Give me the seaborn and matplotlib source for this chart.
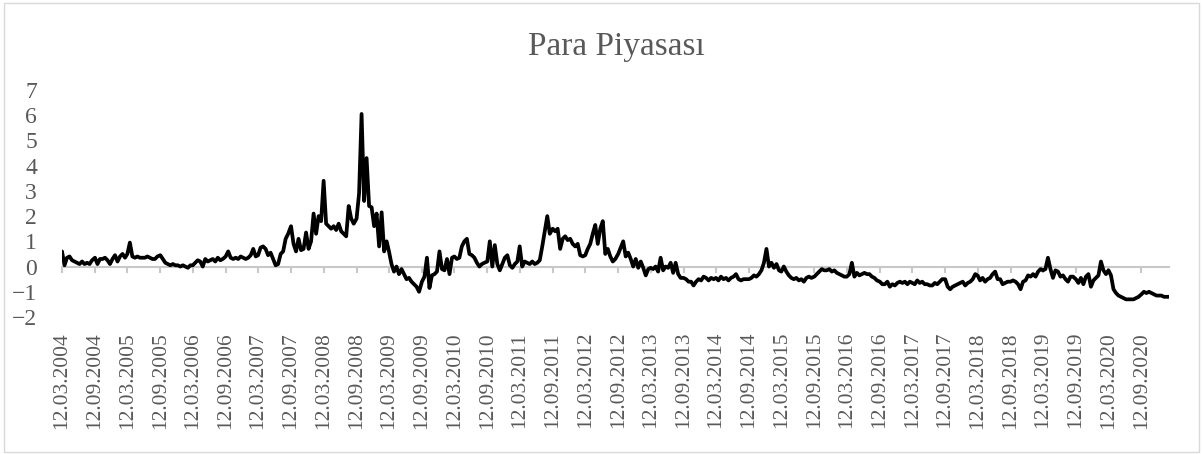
import pandas as pd
import seaborn as sns
import matplotlib
matplotlib.use("Agg")
import matplotlib.pyplot as plt
import matplotlib.transforms as mtransforms

# biweekly readings, one list per half-year (starting 12.03 / 12.09)
h2004a = [0.6, 0.05, 0.35, 0.4, 0.25, 0.2, 0.15, 0.1, 0.2, 0.1, 0.15, 0.1, 0.25]
h2004b = [0.35, 0.1, 0.3, 0.3, 0.35, 0.25, 0.1, 0.3, 0.45, 0.2, 0.4, 0.5, 0.35]
h2005a = [0.5, 0.95, 0.4, 0.35, 0.4, 0.35, 0.35, 0.35, 0.4, 0.35, 0.3, 0.3, 0.4]
h2005b = [0.45, 0.3, 0.15, 0.1, 0.05, 0.1, 0.05, 0.05, 0.0, 0.05, 0.0, -0.05, 0.05]
h2006a = [0.05, 0.15, 0.25, 0.2, 0.0, 0.3, 0.2, 0.25, 0.3, 0.2, 0.35, 0.25, 0.3]
h2006b = [0.4, 0.6, 0.35, 0.3, 0.35, 0.3, 0.4, 0.35, 0.3, 0.35, 0.45, 0.7, 0.4]
h2007a = [0.45, 0.75, 0.8, 0.7, 0.45, 0.55, 0.3, 0.05, 0.1, 0.5, 0.6, 1.1, 1.3]
h2007b = [1.6, 0.9, 0.6, 1.1, 0.65, 0.7, 1.35, 0.7, 1.0, 2.1, 1.3, 2.0, 1.8]
h2008a = [3.4, 1.7, 1.6, 1.5, 1.6, 1.45, 1.7, 1.4, 1.3, 1.2, 2.4, 1.9, 1.7]
h2008b = [1.9, 2.9, 6.05, 2.6, 4.3, 2.4, 2.35, 1.6, 2.1, 0.8, 2.15, 0.6, 1.0]
h2009a = [0.6, 0.1, -0.2, 0.0, -0.3, -0.1, -0.3, -0.5, -0.45, -0.6, -0.7, -0.8, -1.0]
h2009b = [-0.6, -0.4, 0.35, -0.85, -0.35, -0.3, -0.2, 0.6, -0.1, -0.15, 0.3, -0.3, 0.35]
h2010a = [0.4, 0.3, 0.35, 0.8, 1.0, 1.1, 0.5, 0.45, 0.35, 0.15, 0.0, 0.1, 0.15]
h2010b = [0.2, 1.0, 0.0, 0.85, 0.1, -0.15, 0.1, 0.35, 0.45, 0.05, -0.05, 0.1, 0.2]
h2011a = [0.8, 0.0, 0.2, 0.15, 0.1, 0.2, 0.1, 0.15, 0.25, 0.8, 1.4, 2.0, 1.3]
h2011b = [1.5, 1.4, 1.5, 0.7, 1.1, 1.2, 1.05, 1.1, 0.9, 0.8, 0.9, 0.45, 0.4]
h2012a = [0.45, 0.7, 0.9, 1.3, 1.65, 0.9, 1.5, 1.8, 0.5, 0.7, 0.4, 0.2, 0.3]
h2012b = [0.5, 0.75, 1.0, 0.4, 0.55, 0.3, 0.0, 0.3, -0.05, 0.2, -0.05, -0.35, -0.1]
h2013a = [-0.05, -0.1, 0.0, -0.2, 0.35, -0.15, 0.0, -0.05, 0.15, -0.25, 0.15, -0.3, -0.45]
h2013b = [-0.45, -0.5, -0.6, -0.6, -0.75, -0.6, -0.5, -0.55, -0.4, -0.45, -0.55, -0.45, -0.5]
h2014a = [-0.45, -0.55, -0.4, -0.5, -0.45, -0.55, -0.45, -0.4, -0.3, -0.5, -0.55, -0.5, -0.5]
h2014b = [-0.5, -0.45, -0.35, -0.4, -0.3, -0.15, 0.15, 0.7, 0.0, 0.15, -0.05, 0.1, -0.15]
h2015a = [-0.2, 0.0, -0.2, -0.35, -0.45, -0.5, -0.45, -0.55, -0.5, -0.6, -0.45, -0.4, -0.45]
h2015b = [-0.4, -0.3, -0.2, -0.1, -0.15, -0.15, -0.1, -0.2, -0.15, -0.25, -0.3, -0.35, -0.4]
h2016a = [-0.4, -0.3, 0.15, -0.4, -0.25, -0.35, -0.3, -0.25, -0.3, -0.3, -0.4, -0.45, -0.55]
h2016b = [-0.6, -0.7, -0.7, -0.6, -0.8, -0.7, -0.75, -0.65, -0.6, -0.65, -0.6, -0.7, -0.6]
h2017a = [-0.65, -0.7, -0.55, -0.65, -0.6, -0.7, -0.7, -0.75, -0.75, -0.65, -0.7, -0.6, -0.5]
h2017b = [-0.5, -0.8, -0.9, -0.8, -0.75, -0.7, -0.65, -0.6, -0.75, -0.65, -0.6, -0.5, -0.3]
h2018a = [-0.35, -0.55, -0.45, -0.6, -0.5, -0.45, -0.3, -0.2, -0.5, -0.5, -0.7, -0.65, -0.6]
h2018b = [-0.6, -0.55, -0.6, -0.7, -0.9, -0.6, -0.55, -0.35, -0.4, -0.3, -0.4, -0.2, -0.1]
h2019a = [-0.15, -0.1, 0.35, -0.1, -0.45, -0.15, -0.2, -0.4, -0.35, -0.5, -0.6, -0.4, -0.4]
h2019b = [-0.5, -0.65, -0.45, -0.7, -0.4, -0.3, -0.8, -0.55, -0.45, -0.35, 0.2, -0.15, -0.3]
h2020a = [-0.15, -0.35, -0.9, -1.05, -1.15, -1.2, -1.25, -1.3, -1.3, -1.3, -1.3, -1.25, -1.2]
h2020b = [-1.1, -1.0, -1.05, -1.0, -1.05, -1.1, -1.15, -1.15, -1.15, -1.2, -1.2, -1.2]

halves = [h2004a, h2004b, h2005a, h2005b, h2006a, h2006b, h2007a, h2007b,
          h2008a, h2008b, h2009a, h2009b, h2010a, h2010b, h2011a, h2011b,
          h2012a, h2012b, h2013a, h2013b, h2014a, h2014b, h2015a, h2015b,
          h2016a, h2016b, h2017a, h2017b, h2018a, h2018b, h2019a, h2019b,
          h2020a, h2020b]

# half-year start dates used as tick labels: 12.03 and 12.09 of each year
tick_dates = pd.date_range("2004-03-01", periods=len(halves), freq="6MS") + pd.Timedelta(days=11)
tick_labels = [d.strftime("%d.%m.%Y") for d in tick_dates]

rows = []
for start, vals in zip(tick_dates, halves):
    for k, v in enumerate(vals):
        rows.append((start + pd.Timedelta(days=14 * k), v))
df = pd.DataFrame(rows, columns=["date", "value"])

sns.set_style("white")
plt.rcParams["font.family"] = ["Liberation Serif", "DejaVu Serif"]

fig = plt.figure(figsize=(12.03, 4.54), dpi=100)
ax = fig.add_axes([62 / 1203, 137 / 454, 1107 / 1203, 227 / 454])

sns.lineplot(data=df, x="date", y="value", ax=ax, color="black", linewidth=2.7, zorder=3)
ax.lines[-1].set_solid_joinstyle("round")

ax.set_xlim(df["date"].iloc[0], df["date"].iloc[-1])
ax.set_ylim(-2, 7)
ax.set_yticks(range(-2, 8))
ax.set_xticks(tick_dates)
ax.set_xlabel("")
ax.set_ylabel("")
for name in ["top", "right", "left"]:
    ax.spines[name].set_visible(False)

# Excel-like horizontal axis: line at zero, ticks hanging down, labels low
ax.spines["bottom"].set_visible(True)
ax.spines["bottom"].set_position(("data", 0))
ax.spines["bottom"].set_color("#C8C8C8")
ax.spines["bottom"].set_linewidth(1.5)
ax.spines["bottom"].set_zorder(1)
ax.tick_params(axis="x", bottom=True, direction="out", length=4.5, width=1.5,
               color="#C8C8C8", labelbottom=False)
ax.tick_params(axis="y", left=False, length=0, pad=18, labelsize=17, labelcolor="#595959")

lab_tr = mtransforms.blended_transform_factory(ax.transData, ax.transAxes)
for d, lab in zip(tick_dates, tick_labels):
    ax.text(d, -0.066, lab, transform=lab_tr, rotation=90, ha="center", va="top",
            fontsize=15.5, color="#595959", clip_on=False)

fig.text(0.512, 1 - 47 / 454, "Para Piyasası", ha="center", va="center",
         fontsize=24, color="#595959")

fig.patches.append(plt.Rectangle((4 / 1203, 2 / 454), 1195 / 1203, 449 / 454,
                                 transform=fig.transFigure, fill=False,
                                 edgecolor="#D9D9D9", linewidth=1))

fig.savefig("out.png", dpi=100)
